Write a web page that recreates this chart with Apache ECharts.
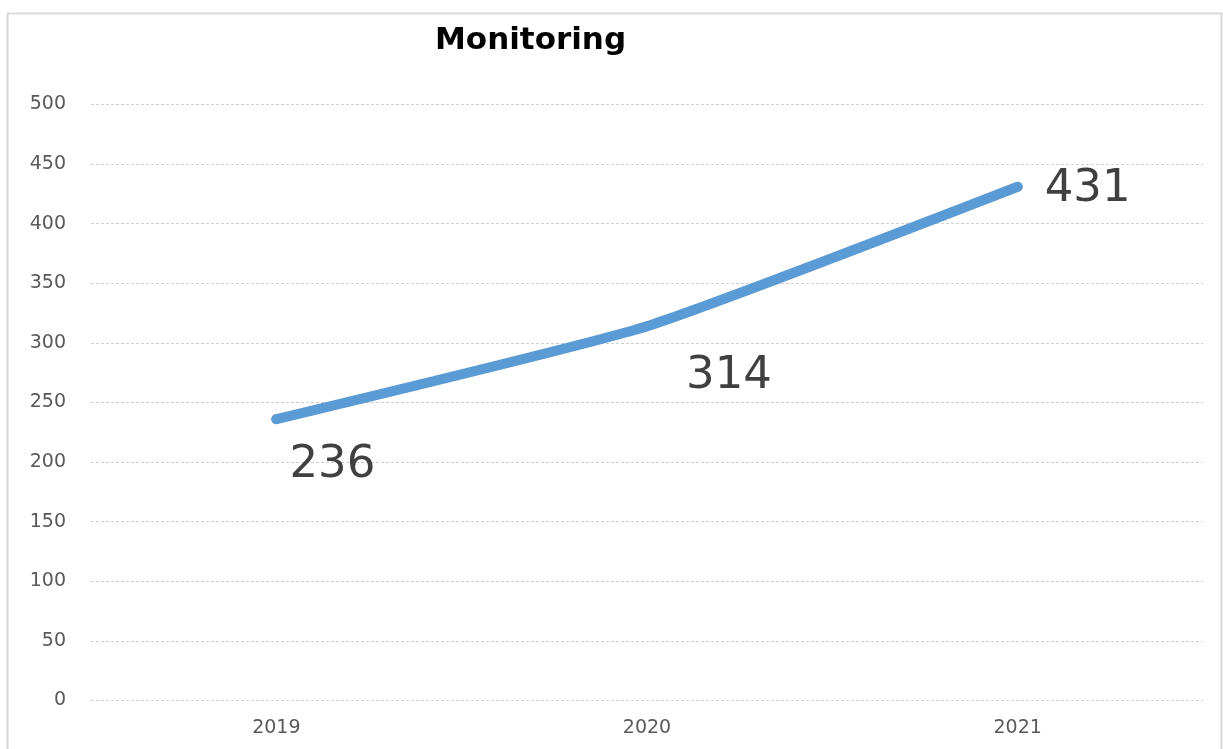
<!DOCTYPE html>
<html>
<head>
<meta charset="utf-8">
<script src="https://cdn.jsdelivr.net/npm/echarts@6/dist/echarts.min.js"></script>
<style>
html,body{margin:0;padding:0;background:#fff;}
#main{width:1223px;height:749px;}
</style>
</head>
<body>
<div id="main"></div>
<script>
const titleText = 'Monitoring';
const categories = ['2019', '2020', '2021'];
const values = [236, 314, 431];
const yTicks = { min: 0, max: 500, interval: 50 };

const labelOffsets = [[56, 46], [82, 50], [70, 3]];

const chart = echarts.init(document.getElementById('main'));
chart.setOption({
  backgroundColor: '#ffffff',
  animation: false,
  graphic: [{
    type: 'rect',
    shape: { x: 7.5, y: 13.5, width: 1214, height: 760 },
    style: { fill: 'none', stroke: '#d9d9d9', lineWidth: 2 },
    silent: true
  }],
  title: {
    text: titleText,
    left: 430,
    top: 20,
    textStyle: { fontFamily: 'DejaVu Sans', fontWeight: 'bold', fontSize: 31, color: '#000000' }
  },
  grid: { left: 91, right: 20, top: 104.5, bottom: 48.5 },
  xAxis: {
    type: 'category',
    data: categories,
    boundaryGap: true,
    axisLine: { show: false },
    axisTick: { show: false },
    axisLabel: { fontFamily: 'DejaVu Sans', fontSize: 19, color: '#595959', margin: 18 }
  },
  yAxis: {
    type: 'value',
    min: yTicks.min, max: yTicks.max, interval: yTicks.interval,
    axisLine: { show: false },
    axisTick: { show: false },
    axisLabel: { fontFamily: 'DejaVu Sans', fontSize: 19, color: '#595959', margin: 25 },
    splitLine: { lineStyle: { color: '#cfcfcf', type: [3, 2], width: 1 } }
  },
  series: [{
    type: 'line',
    data: values.map((v, i) => ({
      value: v,
      label: { offset: labelOffsets[i] }
    })),
    smooth: 0.15,
    symbol: 'circle',
    symbolSize: 10,
    itemStyle: { color: '#5B9BD5' },
    lineStyle: { color: '#5B9BD5', width: 10, cap: 'round', join: 'round' },
    label: {
      show: true,
      position: 'inside',
      fontFamily: 'DejaVu Sans',
      fontSize: 45,
      color: '#404040'
    }
  }]
});
</script>
</body>
</html>
